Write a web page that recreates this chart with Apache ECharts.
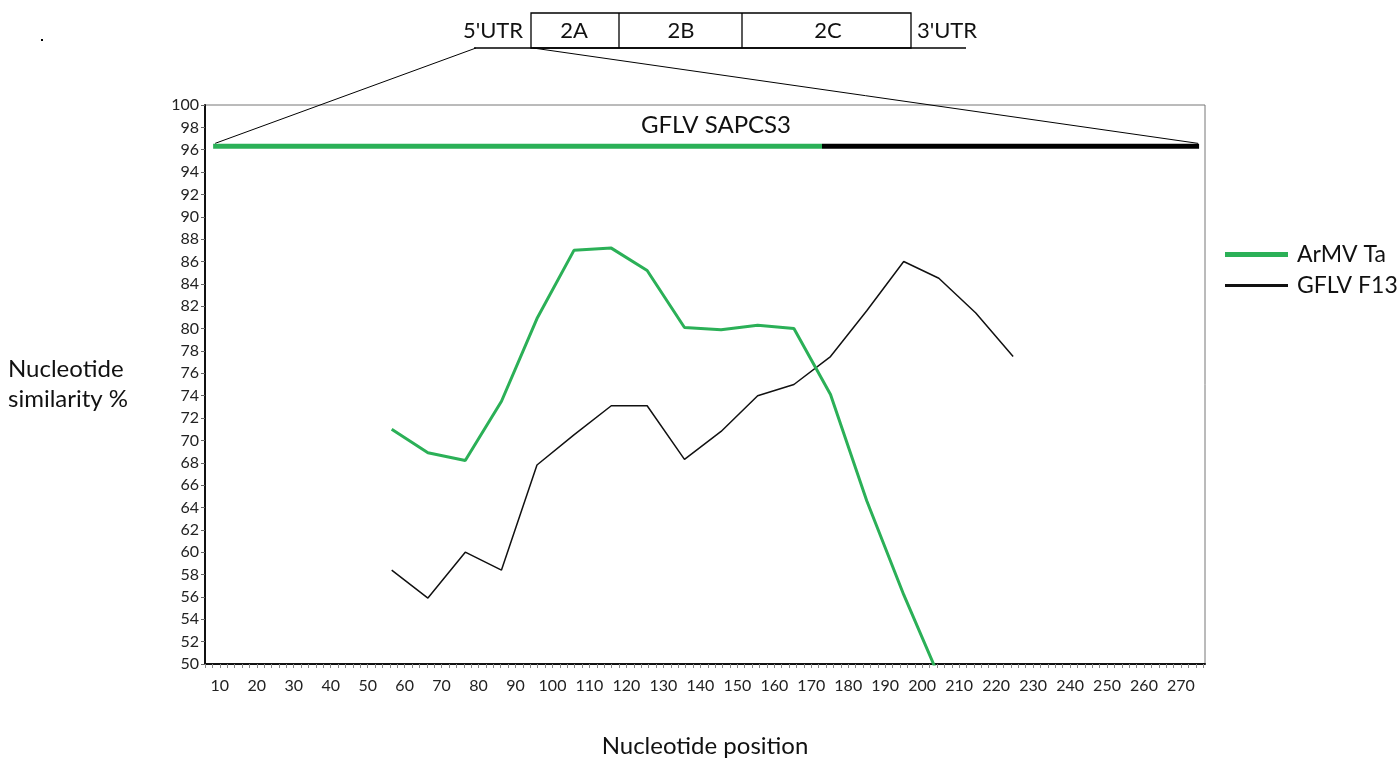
<!DOCTYPE html>
<html>
<head>
<meta charset="utf-8">
<title>Nucleotide similarity</title>
<script src="https://cdn.jsdelivr.net/npm/echarts@6.0.0/dist/echarts.min.js"></script>
<style>
  html, body { margin: 0; padding: 0; background: #fff; }
  #chart { width: 1400px; height: 759px; }
</style>
</head>
<body>
<div id="chart"></div>
<script>
// sampled window positions (nucleotide)
var xPos = [56.5, 66.3, 76.4, 86.2, 95.8, 105.8, 115.9, 125.6, 135.7, 145.6, 155.5, 165.3, 175.2, 185.0, 195.0, 204.5, 214.5, 224.6]
// similarity % per window
var armvTa = [71.0, 68.9, 68.2, 73.5, 80.9, 87.0, 87.2, 85.2, 80.1, 79.9, 80.3, 80.0, 74.1, 64.6, 56.2, 48.9]
var gflvF13 = [58.4, 55.9, 60.0, 58.4, 67.8, 70.5, 73.1, 73.1, 68.3, 70.8, 74.0, 75.0, 77.5, 81.6, 86.0, 84.5, 81.4, 77.5]
// GFLV SAPCS3 recombinant bar: green part / black part
var sapcsY = 96.3
var sapcsGreen = [8.2, 172.9]
var sapcsBlack = [172.9, 274.9]
var xLabels = [10, 20, 30, 40, 50, 60, 70, 80, 90, 100, 110, 120, 130, 140, 150, 160, 170, 180, 190, 200, 210, 220, 230, 240, 250, 260, 270]
var xMinorTicks = []
for (var t = 6; t <= 276; t += 2) xMinorTicks.push(t)
var genomeRegions = ["5'UTR", '2A', '2B', '2C', "3'UTR"]

var GREEN = '#2bb057'
var FONT = 'Lato, "Open Sans", sans-serif'

function pairs(xs, ys) {
  return ys.map(function (y, i) { return [xs[i], y] })
}

var chart = echarts.init(document.getElementById('chart'))

chart.setOption({
  animation: false,
  textStyle: { fontFamily: FONT },
  grid: {
    left: 205, right: 195, top: 105, bottom: 95,
    outerBoundsMode: 'none',
    show: true, borderColor: '#777', borderWidth: 1
  },
  legend: [
    {
      data: ['ArMV Ta'], left: 1225, top: 243, padding: 0,
      icon: 'rect', itemWidth: 63, itemHeight: 5,
      textStyle: { fontSize: 23, color: '#111', padding: [0, 0, 0, 4] }
    },
    {
      data: ['GFLV F13'], left: 1225, top: 274, padding: 0,
      icon: 'rect', itemWidth: 63, itemHeight: 3,
      textStyle: { fontSize: 23, color: '#111', padding: [0, 0, 0, 4] }
    }
  ],
  xAxis: {
    type: 'value', min: 6, max: 276.5,
    name: 'Nucleotide position', nameLocation: 'middle', nameGap: 70,
    nameTextStyle: { fontSize: 24, color: '#111' },
    axisLine: { lineStyle: { color: '#111', width: 2 } },
    axisTick: { customValues: xMinorTicks, length: 4, lineStyle: { color: '#888' } },
    axisLabel: { customValues: xLabels, fontSize: 16, color: '#222', margin: 14 },
    splitLine: { show: false }
  },
  yAxis: {
    type: 'value', min: 50, max: 100, interval: 2,
    axisLine: { show: true, lineStyle: { color: '#111', width: 2 } },
    axisTick: { show: true, length: 4, lineStyle: { color: '#666' } },
    axisLabel: { fontSize: 16, color: '#222', margin: 6 },
    splitLine: { show: false }
  },
  series: [
    {
      name: 'ArMV Ta', type: 'line', data: pairs(xPos, armvTa),
      symbol: 'none', color: GREEN, lineStyle: { width: 3, color: GREEN }, z: 4
    },
    {
      name: 'GFLV F13', type: 'line', data: pairs(xPos, gflvF13),
      symbol: 'none', color: '#111', lineStyle: { width: 1.5, color: '#111' }, z: 3
    },
    {
      name: 'SAPCS3 ArMV part', type: 'line',
      data: [[sapcsGreen[0], sapcsY], [sapcsGreen[1], sapcsY]],
      symbol: 'none', lineStyle: { width: 5, color: GREEN, cap: 'butt' }
    },
    {
      name: 'SAPCS3 GFLV part', type: 'line',
      data: [[sapcsBlack[0], sapcsY], [sapcsBlack[1], sapcsY]],
      symbol: 'none', lineStyle: { width: 5, color: '#000', cap: 'butt' }
    }
  ]
})

// genome schematic + zoom lines to bar ends
var pL = chart.convertToPixel({ gridIndex: 0 }, [sapcsGreen[0], sapcsY])
var pR = chart.convertToPixel({ gridIndex: 0 }, [sapcsBlack[1], sapcsY])
var stroke = { stroke: '#000', lineWidth: 1.3, fill: null }
var labelX = [493, 574, 681, 828, 947]

var graphics = [
  { type: 'rect', shape: { x: 41, y: 39, width: 2, height: 2 }, style: { fill: '#000' } },
  { type: 'line', shape: { x1: 474, y1: 48, x2: 966, y2: 48 }, style: stroke },
  { type: 'rect', shape: { x: 531, y: 13, width: 380, height: 35 }, style: stroke },
  { type: 'line', shape: { x1: 619, y1: 13, x2: 619, y2: 48 }, style: stroke },
  { type: 'line', shape: { x1: 742, y1: 13, x2: 742, y2: 48 }, style: stroke },
  { type: 'line', shape: { x1: 476, y1: 48, x2: pL[0] + 2, y2: pL[1] - 3 }, style: { stroke: '#000', lineWidth: 1 } },
  { type: 'line', shape: { x1: 533, y1: 48, x2: pR[0] - 1, y2: pR[1] - 3 }, style: { stroke: '#000', lineWidth: 1 } },
  {
    type: 'text', x: 716, y: 125, z: 10,
    style: { text: 'GFLV SAPCS3', fontSize: 24, fontFamily: FONT, fill: '#111', align: 'center', verticalAlign: 'middle' }
  },
  {
    type: 'text', left: 8, top: 354,
    style: { text: 'Nucleotide\nsimilarity %', fontSize: 24, lineHeight: 30, fontFamily: FONT, fill: '#111' }
  }
]
genomeRegions.forEach(function (name, i) {
  graphics.push({
    type: 'text', x: labelX[i], y: 31,
    style: { text: name, fontSize: 22, fontFamily: FONT, fill: '#111', align: 'center', verticalAlign: 'middle' }
  })
})

chart.setOption({ graphic: graphics })
</script>
</body>
</html>
